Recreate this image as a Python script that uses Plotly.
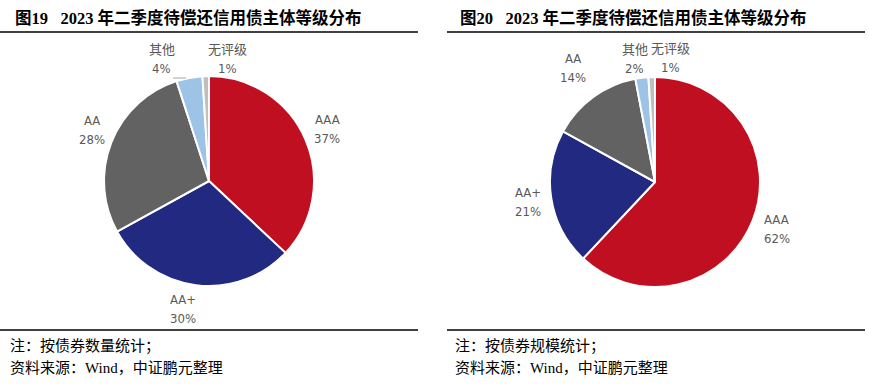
import math
import plotly.graph_objects as go

W, H = 869, 387

labels = ["AAA", "AA+", "AA", "其他", "无评级"]
count_share = [37, 30, 28, 4, 1]      # 图19 按债券数量
scale_share = [62, 21, 14, 2, 1]      # 图20 按债券规模
colors = ["#C00F20", "#212A80", "#626262", "#9DC3E6", "#BFBFBF"]

titles = ["图19   2023 年二季度待偿还信用债主体等级分布",
          "图20   2023 年二季度待偿还信用债主体等级分布"]
notes = ["注：按债券数量统计；", "注：按债券规模统计；"]
source = "资料来源：<span style='font-family:Liberation Serif'>Wind</span>，中证鹏元整理"

# layout (pixels): pie centres, radius, label nudges
pies = [dict(vals=count_share, cx=209, cy=181,
             nudge=[(-1, 0), (-10, 0), (4, -3), (-23, 6), (23, 8)]),
        dict(vals=scale_share, cx=655, cy=182,
             nudge=[(1, 0), (1, 0), (-6, -8), (-4, 6), (20, 6)])]
R = 105
LABEL_R = 130

def px_dom(cx, cy, r):
    return dict(x=[(cx - r) / W, (cx + r) / W],
                y=[(H - cy - r) / H, (H - cy + r) / H])

def px(x, y):
    return x / W, 1 - y / H

fig = go.Figure()
ann = []
shapes = []
lab_font = dict(family="Liberation Sans Narrow, Arial Narrow, DejaVu Sans Condensed, Liberation Sans, Noto Sans CJK SC",
                size=13, color="#595959")
for p in pies:
    vals = p["vals"]
    fig.add_trace(go.Pie(
        labels=labels, values=vals, sort=False, direction="clockwise",
        rotation=0, domain=px_dom(p["cx"], p["cy"], R),
        marker=dict(colors=colors, line=dict(color="white", width=2)),
        textinfo="none", showlegend=False, hoverinfo="label+percent"))
    tot = sum(vals)
    cum = 0
    for lab, v, (dx, dy) in zip(labels, vals, p["nudge"]):
        mid = (cum + v / 2) / tot * 2 * math.pi
        cum += v
        lx = p["cx"] + LABEL_R * math.sin(mid) + dx
        ly = p["cy"] - LABEL_R * math.cos(mid) + dy
        for txt, oy in [(lab, -10), (f"{round(v / tot * 100)}%", 9)]:
            x, y = px(lx, ly + oy)
            ann.append(dict(text=txt, x=x, y=y, xref="paper", yref="paper",
                            xanchor="center", yanchor="middle", showarrow=False,
                            font=lab_font))

# leader line for the small "其他" slice in 图19
x0, y0 = px(173, 78)
x1, y1 = px(186, 78)
shapes.append(dict(type="line", xref="paper", yref="paper", x0=x0, x1=x1, y0=y0, y1=y1,
                   line=dict(color="#A6A6A6", width=1)))

for i, (lx0, lx1, tx) in enumerate([(0, 418, 13), (447, 865, 458)]):
    for yy, wdt in [(32, 1.6), (330, 1.3)]:
        a, b = px(lx0, yy)
        c, _ = px(lx1, yy)
        shapes.append(dict(type="line", xref="paper", yref="paper",
                           x0=a, x1=c, y0=b, y1=b, line=dict(color="black", width=wdt)))
    x, y = px(tx, 17.5)
    ann.append(dict(text="<b>" + titles[i] + "</b>", x=x, y=y,
                    xref="paper", yref="paper", xanchor="left", yanchor="middle",
                    showarrow=False,
                    font=dict(family="Liberation Serif, Noto Sans CJK SC", size=16.5, color="black")))
    for txt, yy in [(notes[i], 344), (source, 366.5)]:
        x, y = px(tx - 5, yy)
        ann.append(dict(text=txt, x=x, y=y, xref="paper", yref="paper",
                        xanchor="left", yanchor="middle", showarrow=False,
                        font=dict(family="Noto Sans CJK SC", size=15, color="black")))

fig.update_layout(width=W, height=H, margin=dict(l=0, r=0, t=0, b=0),
                  paper_bgcolor="white", plot_bgcolor="white",
                  shapes=shapes, annotations=ann)
fig.write_html("out.html", config={"displayModeBar": False},
               post_script="document.body.style.margin='0';")
